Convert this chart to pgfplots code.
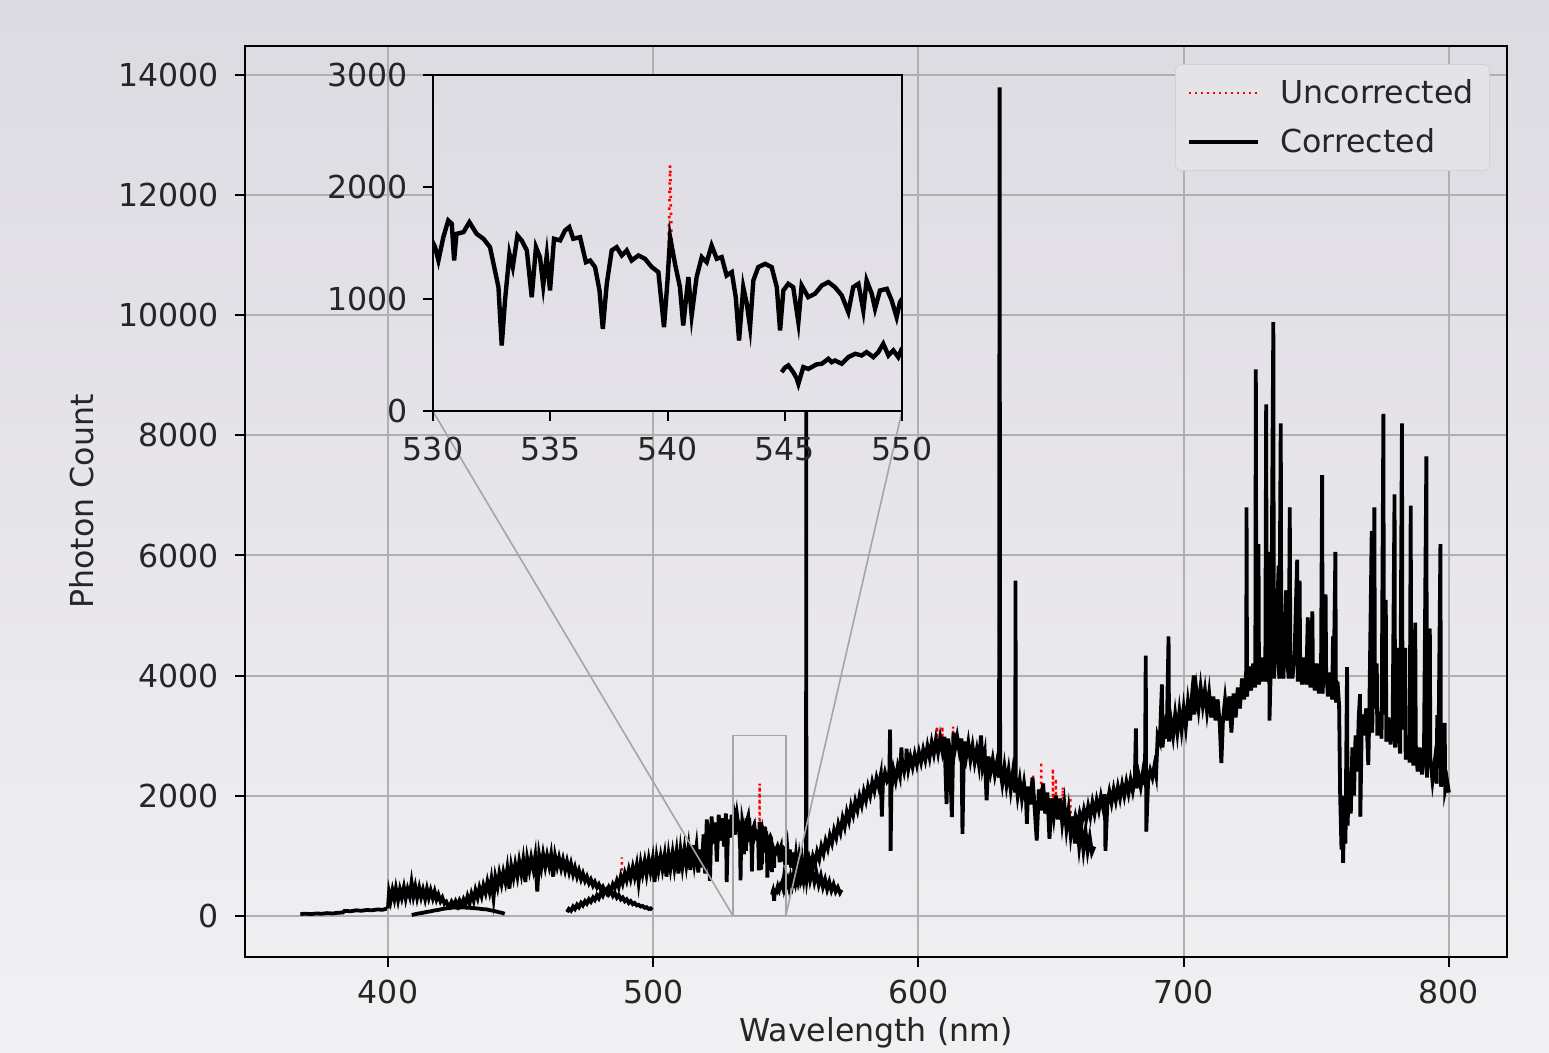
\documentclass[border=0pt]{standalone}
\usepackage{fontspec}
\setmainfont{DejaVu Sans}
\usepackage{pgfplots}
\pgfplotsset{compat=1.18}
\usepackage{pgfplotstable}

\definecolor{gridc}{RGB}{176,176,176}
\definecolor{bgtop}{RGB}{221,219,226}
\definecolor{bgbot}{RGB}{241,240,243}
\definecolor{insettop}{RGB}{222,220,227}
\definecolor{insetbot}{RGB}{229,227,233}
\definecolor{legfill}{RGB}{228,227,232}
\definecolor{legedge}{RGB}{210,209,214}
\definecolor{conn}{RGB}{165,165,165}
\definecolor{txt}{RGB}{38,38,38}
\newcommand{\fs}{\fontsize{15.8pt}{19pt}\selectfont}

\pgfplotstableread{
x y
367.0 25
369.0 32
371.0 24
373.0 36
375.0 30
377.0 41
379.0 35
381.0 46
383.0 52
383.6 78
386.0 72
388.0 88
390.0 80
392.0 93
394.0 88
396.0 102
398.0 96
399.6 118
nan nan
400.0 120
400.4 380
401.0 250
401.7 420
402.4 280
403.0 450
403.8 260
404.5 430
405.2 300
406.0 470
406.7 290
407.4 440
408.2 320
408.9 550
409.6 330
410.3 480
411.0 300
411.8 460
412.5 310
413.2 430
414.0 280
414.7 440
415.4 300
416.1 420
416.9 290
417.6 400
418.3 270
419.0 350
419.8 240
420.5 300
421.3 200
422.0 230
422.8 150
423.5 140
nan nan
409.0 10
410.0 20
411.5 35
413.0 45
414.5 60
416.0 70
417.5 85
419.0 95
420.5 110
422.0 120
423.5 130
425.0 135
426.5 128
428.0 140
429.5 133
431.0 130
432.5 122
434.0 118
435.5 108
437.0 104
438.5 90
440.0 78
441.5 60
443.0 45
444.0 30
nan nan
422.5 200
423.3 150
424.0 230
424.8 170
425.5 240
426.3 160
427.0 250
427.8 180
428.5 270
429.3 190
430.0 320
430.8 210
431.5 360
432.3 250
433.0 420
433.8 300
434.5 460
435.3 330
436.0 500
436.8 380
437.5 560
438.3 400
439.0 600
439.8 300
440.5 640
441.3 480
442.0 700
442.8 530
443.5 720
444.3 560
445.0 780
445.8 450
446.5 820
447.3 640
448.0 850
448.8 660
449.5 900
450.3 700
451.0 920
451.8 560
452.5 950
453.3 760
454.0 960
454.8 780
455.5 980
456.3 400
457.0 1000
457.8 800
458.5 1020
459.3 820
460.0 1000
460.8 830
461.5 1010
462.3 650
463.0 990
463.8 820
464.5 960
465.3 790
466.0 930
466.8 760
467.5 900
468.3 730
469.0 860
469.8 690
470.5 800
471.3 650
472.0 750
472.8 610
473.5 700
474.3 580
475.0 650
475.8 540
476.5 600
477.3 500
478.0 560
478.8 470
479.5 520
480.3 430
481.0 480
481.8 400
482.5 440
483.3 360
484.0 410
484.8 330
485.5 380
486.3 300
487.0 340
487.8 270
488.5 300
489.3 240
490.0 270
490.8 210
491.5 240
492.3 190
493.0 210
493.8 170
494.5 180
495.3 150
496.0 160
496.8 130
497.5 140
498.3 110
499.0 120
499.6 95
nan nan
467.5 60
468.2 110
469.0 80
469.8 150
470.5 110
471.3 180
472.0 140
472.8 210
473.5 170
474.3 240
475.0 200
475.8 270
476.5 230
477.3 300
478.0 260
478.8 340
479.5 290
480.3 380
481.0 330
481.8 420
482.5 370
483.3 470
484.0 410
484.8 520
485.5 460
486.3 580
487.0 480
487.8 650
488.5 540
489.3 700
490.0 590
490.8 760
491.5 620
492.3 800
493.0 650
493.8 840
494.5 560
495.3 870
496.0 700
496.8 900
497.5 690
498.3 930
499.0 740
499.8 940
500.5 560
501.3 960
502.0 760
502.8 980
503.5 780
504.3 1000
505.0 650
505.8 1010
506.5 790
507.3 1040
508.0 800
508.8 1060
509.5 700
510.3 1080
511.0 820
511.8 1100
512.5 850
513.3 1130
514.0 760
514.8 1170
515.5 880
516.3 1150
517.0 720
517.6 1100
518.3 800
519.0 1350
519.6 700
520.2 1600
520.9 1100
521.4 580
522.0 1650
522.7 1200
523.4 1550
524.0 900
524.7 1680
525.4 1250
526.0 1620
526.7 1150
527.4 1700
527.7 560
528.3 1600
529.0 1300
529.6 1680
530.09 1467
530.23 1348
530.44 1556
530.65 1705
530.80 1676
530.90 1348
531.00 1586
531.30 1601
531.55 1690
531.86 1586
532.15 1542
532.43 1467
532.64 1259
532.79 1110
532.93 589
533.07 991
533.26 1408
533.40 1289
533.60 1571
533.78 1527
534.00 1438
534.21 1021
534.39 1467
534.56 1378
534.70 1125
534.85 1393
534.99 1080
535.16 1542
535.42 1527
535.63 1616
535.81 1646
535.98 1542
536.27 1556
536.52 1333
536.70 1348
536.91 1289
537.10 1080
537.24 738
537.41 1140
537.62 1438
537.83 1467
538.05 1393
538.26 1438
538.47 1348
538.76 1393
539.04 1363
539.33 1289
539.61 1244
539.85 753
540.00 1170
540.11 1556
540.32 1318
540.53 1110
540.67 768
540.89 1199
541.03 857
541.24 1199
541.46 1378
541.67 1333
541.88 1482
542.10 1363
542.31 1378
542.52 1214
542.74 1244
542.91 1021
543.05 634
543.23 1110
543.38 962
543.52 753
543.66 1170
543.87 1289
544.16 1318
544.44 1289
544.66 1110
544.80 723
544.94 1080
545.15 1140
545.36 1110
545.58 797
545.72 1125
546.00 1021
546.29 1051
546.58 1125
546.86 1155
547.14 1110
547.43 1036
547.71 887
547.92 1110
548.14 1140
548.35 902
548.49 1170
548.71 1051
548.85 917
549.06 1080
549.35 1095
549.56 991
549.77 842
549.91 976
550.5 1150
551.0 850
551.5 1100
552.0 800
552.6 1050
553.2 760
553.8 1000
554.4 720
555.0 950
555.6 700
556.2 900
556.8 650
557.4 880
557.9 620
558.5 820
559.2 600
560.0 760
560.8 560
561.6 700
562.4 520
563.2 660
564.0 480
564.8 600
565.6 440
566.4 560
567.2 420
568.0 520
568.8 400
569.6 470
570.4 380
571.0 430
nan nan
544.87 351
545.00 390
545.15 411
545.36 351
545.50 300
545.58 247
545.79 396
546.00 380
546.15 396
546.35 420
546.58 426
546.86 470
547.00 440
547.14 455
547.43 426
547.71 485
548.00 515
548.28 500
548.49 530
548.78 485
548.99 530
549.20 604
549.42 500
549.63 545
549.84 485
549.99 560
550.6 620
551.2 480
551.8 640
552.4 520
553.0 690
553.6 560
554.2 740
554.8 600
555.4 780
556.0 650
556.6 830
557.2 700
557.65 880
557.7 11000
557.75 870
558.3 750
558.9 920
559.5 800
560.2 980
561.0 860
561.8 1060
562.6 940
563.4 1150
564.2 1030
565.0 1240
565.8 1120
566.6 1330
567.4 1210
568.2 1420
569.0 1300
569.8 1520
570.6 1390
571.4 1620
572.2 1480
573.0 1720
573.8 1580
574.6 1820
575.4 1680
576.2 1900
577.0 1760
577.8 1980
578.6 1840
579.4 2060
580.2 1920
581.0 2140
581.8 2000
582.6 2220
583.4 2080
584.2 2290
585.0 2150
585.8 2340
586.2 1650
586.6 2200
587.4 2380
588.2 2240
589.0 2300
589.3 3100
589.5 1080
589.8 2100
590.6 2420
591.4 2250
592.2 2480
593.0 2330
593.6 2800
593.8 2560
594.6 2400
595.4 2600
595.5 2780
596.2 2450
597.0 2640
597.8 2480
598.6 2680
599.4 2520
600.2 2720
601.0 2560
601.8 2760
602.6 2600
603.4 2820
604.2 2640
605.0 2880
605.8 2700
606.6 2930
607.4 2720
608.2 2960
609.0 2750
609.8 2980
610.6 1860
611.2 2950
611.8 2760
612.6 1640
613.2 3050
613.8 2780
614.6 2980
615.4 2750
616.2 2950
616.6 1360
617.2 2900
618.0 2650
618.8 2880
619.6 2600
620.4 2820
621.2 2560
622.0 2760
622.8 2520
623.6 3000
624.2 2500
625.0 2700
625.7 1920
626.4 2650
627.2 2400
628.0 2600
628.8 2350
629.6 2550
630.4 2300
630.6 13800
630.8 2450
631.6 2200
632.4 2480
633.2 2180
634.0 2420
634.8 2100
635.6 2380
636.5 2050
636.6 5580
636.7 2300
637.4 2000
638.2 2250
639.0 1950
639.8 2200
640.6 1900
640.9 1530
641.4 2150
642.2 1850
643.0 2300
643.8 1800
644.6 1250
645.4 2100
646.2 1750
647.0 2200
647.8 1700
648.6 2050
649.4 1280
650.2 1950
651.0 1650
651.8 2000
652.6 1600
653.4 1950
654.2 1550
655.0 1850
655.8 1450
656.6 1750
657.4 1350
658.2 1650
659.0 1200
659.8 1550
660.6 1150
661.4 1450
662.2 1100
663.0 1400
663.8 1080
664.6 1300
665.4 1050
666.3 1150
nan nan
658.4 1450
659.2 1650
660.0 1500
660.8 1700
661.6 1560
662.4 1760
663.2 1600
664.0 1820
664.8 1650
665.6 1880
666.4 1700
667.2 1920
668.0 1760
668.8 1980
669.6 1800
670.3 2020
670.5 1080
671.2 1850
672.0 2060
672.8 1880
673.6 2100
674.4 1920
675.2 2140
676.0 1960
676.8 2180
677.6 2000
678.4 2220
679.2 2040
680.0 2260
680.8 2080
681.6 2300
682.0 3120
682.2 2120
683.0 2340
683.8 2150
684.6 2380
685.4 2180
685.7 4330
685.9 1400
686.6 2250
687.4 2420
688.2 2300
689.0 2500
689.6 2350
690.2 3000
691.0 2900
691.8 3850
692.0 2800
692.8 3150
693.6 2950
694.3 4650
694.5 2900
695.2 3250
696.0 3000
696.8 3350
697.6 3050
698.4 3400
699.2 3100
700.0 3450
700.8 3150
701.6 3550
702.4 3250
703.2 3700
703.8 4000
704.0 3350
704.8 3750
705.6 3450
706.4 3800
707.2 3500
708.0 3750
708.8 3400
709.6 3700
710.4 3300
711.2 3650
712.0 3250
712.8 3600
713.6 3200
714.2 2540
714.8 3250
715.6 3600
716.4 3250
717.2 3650
718.0 3050
718.8 3700
719.6 3300
720.4 3800
721.2 3450
722.0 3950
722.8 3600
723.6 4100
723.7 6800
723.9 3650
724.6 4150
725.4 3750
726.2 4200
727.0 3800
727.2 9100
727.4 4250
728.2 6190
728.4 3850
729.2 4300
730.0 3900
730.8 4350
731.1 8520
731.3 3900
732.2 6060
732.35 3250
733.0 4400
733.8 9890
734.0 3950
734.8 4450
735.8 5830
736.0 3950
736.6 8200
736.8 4400
737.6 3950
738.6 5420
738.8 4400
739.6 3950
740.0 6800
740.2 4350
741.0 3950
741.8 4350
742.8 5930
743.0 3900
743.7 5580
743.9 4300
744.6 3850
745.4 4300
746.2 3850
746.8 4970
747.0 4250
747.8 3800
748.5 5070
748.7 4200
749.4 3750
750.2 4200
751.0 3700
751.8 4150
752.2 7340
752.4 3700
753.5 5350
753.7 4100
754.4 3650
755.2 4050
756.0 3600
756.3 4650
756.6 4000
757.2 6060
757.4 3550
758.0 3900
758.6 3500
759.0 2000
759.5 1100
760.0 1800
760.1 880
760.6 2000
761.0 1200
761.6 4140
761.8 1500
762.4 2400
763.0 1700
763.6 2800
764.2 2000
764.8 3000
765.4 2400
766.0 3300
766.5 3690
766.6 1650
767.2 3350
768.0 3000
768.8 3450
769.6 2510
770.0 3400
770.9 6410
771.1 3050
771.9 6800
772.1 3450
772.8 4200
773.0 3000
773.8 3400
774.6 2950
775.3 8360
775.5 3350
776.2 5260
776.4 2900
777.2 3300
778.0 2850
778.8 3250
779.5 7020
779.7 2800
780.6 4460
780.8 3200
781.6 2700
782.3 8200
782.5 3100
783.5 4460
783.7 2600
784.4 3000
785.2 2550
785.6 6830
785.8 2950
786.6 2500
787.3 4880
787.5 2850
788.2 2400
789.0 2800
789.8 2350
790.6 2700
791.5 7650
791.7 2300
792.8 4780
793.0 2600
793.8 2250
794.6 2550
795.4 2200
795.6 3340
796.0 2450
796.8 6190
797.0 2150
797.8 2350
798.4 3210
798.6 2100
799.3 2250
800.0 2050
}\corrected

% cosmic-ray spikes present only in the uncorrected spectrum
\pgfplotstableread{
x y
488.15 750
488.20 970
488.25 750
nan nan
540.05 1500
540.11 2200
540.17 1500
nan nan
607.00 2900
607.05 3150
607.10 2900
nan nan
609.00 2900
609.05 3150
609.10 2900
nan nan
613.00 2950
613.05 3150
613.10 2950
nan nan
643.20 1900
643.30 2330
643.40 1900
nan nan
646.20 2000
646.30 2560
646.40 2000
nan nan
650.60 1900
650.70 2450
650.80 1900
nan nan
651.70 1800
651.80 2280
651.90 1800
nan nan
654.30 1700
654.40 2140
654.50 1700
nan nan
657.20 1500
657.30 1970
657.40 1500
}\cosmic

\begin{document}
\begin{tikzpicture}
\shade[top color=bgtop, bottom color=bgbot] (-122.5pt,-48pt) rectangle (652pt,478.5pt);
\begin{axis}[
  name=main,
  at={(0pt,0pt)}, anchor=south west,
  scale only axis, width=631pt, height=455.5pt,
  xmin=346.1, xmax=821.9, ymin=-690, ymax=14490,
  xtick={400,500,600,700,800}, ytick={0,2000,...,14000},
  grid=major, major grid style={gridc, line width=1pt},
  axis line style={black, line width=1pt},
  tick align=outside, major tick length=5pt,
  tick style={black, line width=1pt},
  xtick pos=bottom, ytick pos=left,
  scaled ticks=false,
  /pgf/number format/1000 sep={},
  /pgf/number format/assume math mode=true,
  ticklabel style={font=\fs, text=txt},
  yticklabel style={xshift=-4.5pt},
  xticklabel style={yshift=-3pt},
  xlabel={Wavelength (nm)}, ylabel={Photon Count},
  every axis x label/.style={at={(axis description cs:0.5,0)}, anchor=center, yshift=-38pt, font=\fs, text=txt},
  every axis y label/.style={at={(axis description cs:0,0.5)}, anchor=center, xshift=-81.75pt, rotate=90, font=\fs, text=txt},
  unbounded coords=jump,
  legend style={at={(axis description cs:0.9865,0.9802)}, anchor=north east,
    fill=legfill, draw=legedge, rounded corners=3pt, font=\fs, text=txt,
    inner xsep=6pt, inner ysep=5.5pt, row sep=7pt, column sep=8pt},
  legend cell align=left,
  legend image code/.code={\draw[#1] (0pt,0pt) -- (34.5pt,0pt);},
]
\addplot[red, line width=1.2pt, dash pattern=on 1pt off 2pt] table[x=x,y=y] {\corrected};
\addlegendentry{Uncorrected}
\addplot[red, line width=1.2pt, dash pattern=on 1pt off 2pt, forget plot] table[x=x,y=y] {\cosmic};
\addplot[black, line width=1.9pt] table[x=x,y=y] {\corrected};
\addlegendentry{Corrected}
\draw[conn, line width=0.8pt] (axis cs:530,0) rectangle (axis cs:550,3000);
\draw[conn, line width=0.8pt] (axis cs:530,0) -- (axis cs:416.97,8400);
\draw[conn, line width=0.8pt] (axis cs:550,0) -- (axis cs:593.78,8400);
\coordinate (insetSW) at (axis cs:416.97,8400);
\end{axis}
\begin{axis}[
  at={(insetSW)}, anchor=south west,
  scale only axis, width=234.5pt, height=168pt,
  xmin=530, xmax=550, ymin=0, ymax=3000,
  xtick={530,535,...,550}, ytick={0,1000,2000,3000},
  axis background/.style={top color=insettop, bottom color=insetbot},
  axis line style={black, line width=1pt},
  tick align=outside, major tick length=5pt,
  tick style={black, line width=1pt},
  xtick pos=bottom, ytick pos=left,
  scaled ticks=false,
  /pgf/number format/1000 sep={},
  /pgf/number format/assume math mode=true,
  ticklabel style={font=\fs, text=txt},
  yticklabel style={xshift=-4pt},
  xticklabel style={yshift=-4.5pt},
  unbounded coords=jump,
]
\addplot[red, line width=1.4pt, dash pattern=on 1.2pt off 3pt] table[x=x,y=y] {\corrected};
\addplot[red, line width=1.4pt, dash pattern=on 1.2pt off 3pt] table[x=x,y=y] {\cosmic};
\addplot[black, line width=2.2pt] table[x=x,y=y] {\corrected};
\end{axis}
\pgfresetboundingbox
\path (-122.5pt,-48pt) rectangle (652pt,478.5pt);
\end{tikzpicture}
\end{document}
